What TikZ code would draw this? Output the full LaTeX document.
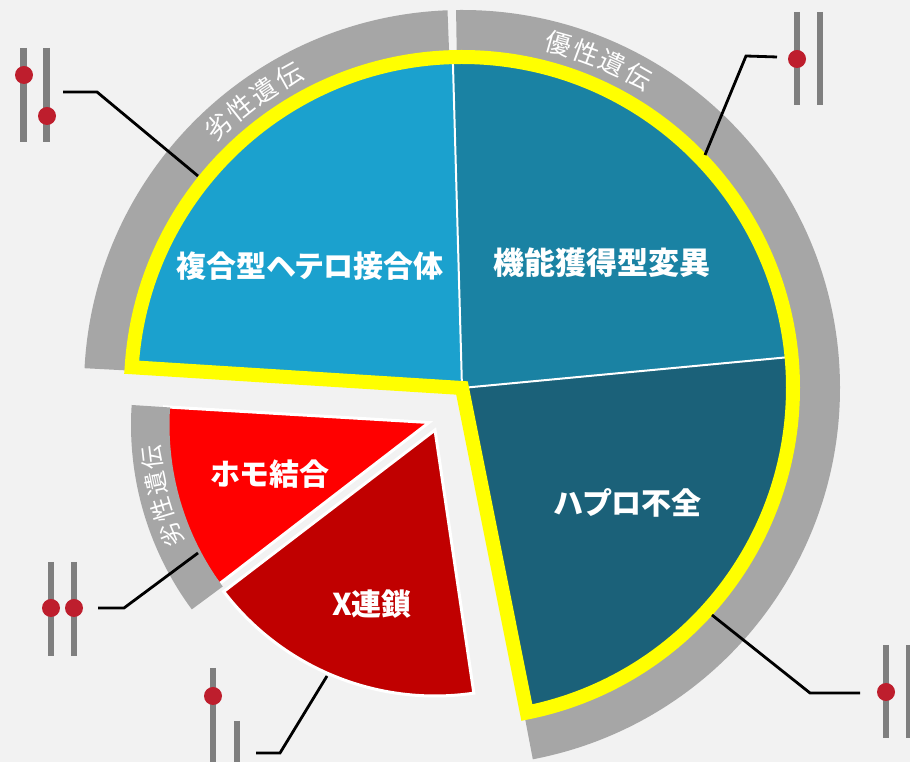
\documentclass[tikz,border=0pt]{standalone}
\usepackage{fontspec}
\newfontfamily\jp{Noto Sans CJK JP}
\newfontfamily\jpp{Noto Sans CJK JP}[RawFeature=+palt]
\definecolor{bg}{HTML}{F2F2F2}
\definecolor{band}{HTML}{A6A6A6}
\definecolor{blueA}{HTML}{1BA1CE}
\definecolor{blueB}{HTML}{1A82A3}
\definecolor{blueC}{HTML}{1B6179}
\definecolor{redA}{HTML}{FF0000}
\definecolor{redB}{HTML}{C00000}
\definecolor{bar}{HTML}{7F7F7F}
\definecolor{dot}{HTML}{BE1E2D}
\definecolor{yel}{HTML}{FFFF00}
\begin{document}
\begin{tikzpicture}[x=1pt,y=1pt,
  slicelabel/.style={text=white, font=\jpp\bfseries\fontsize{30}{30}\selectfont, inner sep=0pt},
  arctext/.style={text=white, font=\jp\fontsize{26}{26}\selectfont, inner sep=0pt},
  smallarctext/.style={text=white, font=\jp\fontsize{24}{24}\selectfont, inner sep=0pt},
  leader/.style={draw=black, line width=2.8pt},
  chrom/.style={draw=bar, line width=6.5pt},
  allele/.style={circle, fill=dot, minimum size=18pt, inner sep=0pt},
]
\fill[bg] (0,0) rectangle (910,762);
\useasboundingbox (0,0) rectangle (910,762);

% big pie
\begin{scope}[shift={(462,374)}]
  \fill[band] (92.2:326pt) arc[start angle=92.2,end angle=177,radius=326pt] -- (177:378pt) arc[start angle=177,end angle=92.2,radius=378pt] -- cycle;
  \fill[band] (-79.2:326pt) arc[start angle=-79.2,end angle=90.9,radius=326pt] -- (90.9:378pt) arc[start angle=90.9,end angle=-79.2,radius=378pt] -- cycle;
  \fill[blueA] (0,0) -- (91.6:331pt) arc[start angle=91.6,end angle=176.4,radius=331pt] -- cycle;
  \fill[blueB] (0,0) -- (5.4:331pt) arc[start angle=5.4,end angle=91.6,radius=331pt] -- cycle;
  \fill[blueC] (0,0) -- (-78.7:331pt) arc[start angle=-78.7,end angle=5.4,radius=331pt] -- cycle;
  \draw[white, line width=2pt] (0,0) -- (91.6:331pt) (0,0) -- (5.4:331pt);
  \draw[yel, line width=14pt, miter limit=20] (0,0) -- (176.4:331pt) arc[start angle=176.4,end angle=-78.7,radius=331pt] -- cycle;
  \foreach \ch/\a [count=\i] in {劣/133,性/128.35,遺/123.7,伝/119.05}
    \node[arctext, rotate=\a-90] (tl\i) at (\a:357pt) {\ch};
  \foreach \ch/\a [count=\i] in {優/74.3,性/69.7,遺/65.1,伝/60.5}
    \node[arctext, rotate=\a-90] (tr\i) at (\a:358pt) {\ch};
\end{scope}

% red pie
\fill[redA, draw=white, line width=3pt] (429,339.5) -- ++(176.6:265pt) arc[start angle=176.6,end angle=217.6,radius=265pt] -- cycle;
\fill[redB, draw=white, line width=3pt] (435,332) -- ++(217.4:266pt) arc[start angle=217.4,end angle=278.4,radius=266pt] -- cycle;
\begin{scope}[shift={(441,337)}]
  \fill[band] (176.3:271.5pt) arc[start angle=176.3,end angle=216.5,radius=271.5pt] -- (216.5:310pt) arc[start angle=216.5,end angle=176.3,radius=310pt] -- cycle;
  \foreach \ch/\a [count=\i] in {劣/202.2,性/197,遺/191.7,伝/186.5}
    \node[smallarctext, rotate=\a-90] (sl\i) at (\a:291pt) {\ch};
\end{scope}

% slice labels
\node[slicelabel] (fukugou) at (310,496) {複合型ヘテロ接合体};
\node[slicelabel, font=\jpp\bfseries\fontsize{31}{31}\selectfont] (kinou) at (602,499) {機能獲得型変異};
\node[slicelabel] (haplo) at (628,259) {ハプロ不全};
\node[slicelabel] (homo) at (270,288) {ホモ結合};
\node[slicelabel] (xlink) at (372,158) {X連鎖};

% chromosome glyphs
\draw[chrom] (23.3,714) -- (23.3,620);
\draw[chrom] (46.7,714) -- (46.7,620);
\node[allele] (d1a) at (24,687) {};
\node[allele] (d1b) at (47,646) {};

\draw[chrom] (797,750) -- (797,657);
\draw[chrom] (820,750) -- (820,657);
\node[allele] (d2) at (797,703) {};

\draw[chrom] (886,117) -- (886,24);
\draw[chrom] (909,117) -- (909,24);
\node[allele] (d3) at (886,70) {};

\draw[chrom] (51,200) -- (51,106);
\draw[chrom] (74,200) -- (74,106);
\node[allele] (d4a) at (51,154) {};
\node[allele] (d4b) at (74,154) {};

\draw[chrom] (213,94) -- (213,0);
\draw[chrom] (237,41) -- (237,0);
\node[allele] (d5) at (213,66) {};

% leaders
\coordinate (l1a) at (63,670); \coordinate (l1b) at (97,670); \coordinate (l1c) at (198,586);
\coordinate (l2a) at (777,705); \coordinate (l2b) at (746,706); \coordinate (l2c) at (705,607);
\coordinate (l3a) at (860,69); \coordinate (l3b) at (810,69); \coordinate (l3c) at (712,147);
\coordinate (l4a) at (98,154); \coordinate (l4b) at (124,154); \coordinate (l4c) at (198,209);
\coordinate (l5a) at (256,9); \coordinate (l5b) at (280,9); \coordinate (l5c) at (327,86);
\draw[leader] (l1a) -- (l1b) -- (l1c);
\draw[leader] (l2a) -- (l2b) -- (l2c);
\draw[leader] (l3a) -- (l3b) -- (l3c);
\draw[leader] (l4a) -- (l4b) -- (l4c);
\draw[leader] (l5a) -- (l5b) -- (l5c);
\end{tikzpicture}
\end{document}
